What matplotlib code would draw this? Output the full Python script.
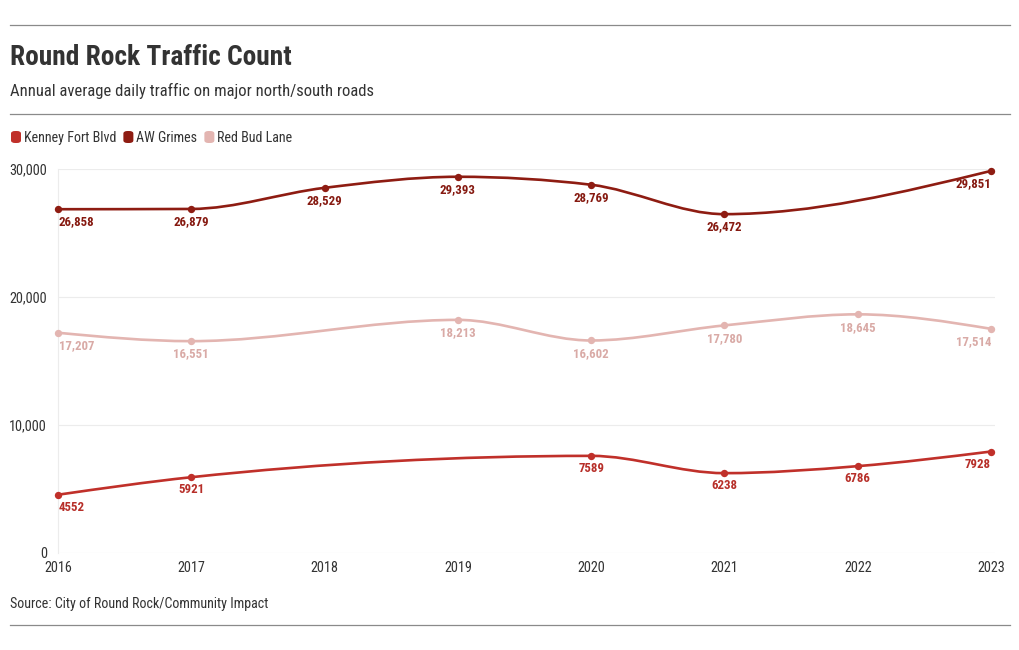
import numpy as np
import matplotlib
matplotlib.use("Agg")
import matplotlib.pyplot as plt
from matplotlib import font_manager
from matplotlib.patches import FancyBboxPatch, PathPatch
from matplotlib.lines import Line2D
from matplotlib.path import Path

years = [2016, 2017, 2018, 2019, 2020, 2021, 2022, 2023]
kenney = [4552, 5921, None, None, 7589, 6238, 6786, 7928]
grimes = [26858, 26879, 28529, 29393, 28769, 26472, None, 29851]
redbud = [17207, 16551, None, 18213, 16602, 17780, 18645, 17514]

series = [
    ("Kenney Fort Blvd", kenney, "#c0302a", "#b72f29", False),
    ("AW Grimes", grimes, "#8e1c12", "#861a11", True),
    ("Red Bud Lane", redbud, "#e3b5b1", "#d9aaa6", True),
]

names = {f.name for f in font_manager.fontManager.ttflist}
font = "Roboto Condensed" if "Roboto Condensed" in names else "Roboto"
plt.rcParams["font.family"] = [font, "DejaVu Sans"]


def monotone_path(xs, ys):
    # d3 curveMonotoneX as cubic bezier segments
    xs = np.asarray(xs, float)
    ys = np.asarray(ys, float)
    n = len(xs)
    h = np.diff(xs)
    s = np.diff(ys) / h
    t = np.zeros(n)
    for i in range(1, n - 1):
        p = (s[i - 1] * h[i] + s[i] * h[i - 1]) / (h[i - 1] + h[i])
        t[i] = (np.sign(s[i - 1]) + np.sign(s[i])) * min(abs(s[i - 1]), abs(s[i]), 0.5 * abs(p))
    t[0] = (3 * s[0] - t[1]) / 2
    t[-1] = (3 * s[-1] - t[-2]) / 2
    verts = [(xs[0], ys[0])]
    codes = [Path.MOVETO]
    for i in range(n - 1):
        dx = (xs[i + 1] - xs[i]) / 3
        verts += [(xs[i] + dx, ys[i] + dx * t[i]),
                  (xs[i + 1] - dx, ys[i + 1] - dx * t[i + 1]),
                  (xs[i + 1], ys[i + 1])]
        codes += [Path.CURVE4] * 3
    return Path(verts, codes)


fig = plt.figure(figsize=(10.2, 6.5), dpi=100)
ax = fig.add_axes([58 / 1020, 1 - 553 / 650, (995 - 58) / 1020, (553 - 169) / 650])

for name, vals, col, lcol, comma in series:
    xs = [y for y, v in zip(years, vals) if v is not None]
    ys = [v for v in vals if v is not None]
    ax.add_patch(PathPatch(monotone_path(xs, ys), fill=False, edgecolor=col,
                           lw=1.9, zorder=3, clip_on=False, capstyle="round"))
    ax.scatter(xs, ys, s=28, color=col, zorder=4, clip_on=False, linewidths=0)
    for i, (x, y) in enumerate(zip(xs, ys)):
        txt = f"{y:,}" if comma else f"{y}"
        ha = "center"
        if i == 0:
            ha = "left"
        elif i == len(xs) - 1:
            ha = "right"
        ax.annotate(txt, (x, y), xytext=(0.5 if i == 0 else 0, -4.5),
                    textcoords="offset points",
                    ha=ha, va="top", fontsize=9.3, fontweight="bold",
                    color=lcol, zorder=5)

ax.set_xlim(2016, 2023.03)
ax.set_ylim(0, 30000)
ax.set_xticks(years)
ax.set_yticks([0, 10000, 20000, 30000])
ax.set_yticklabels(["0", "10,000", "20,000", "30,000"])
ax.tick_params(length=0, labelsize=10.3, colors="#333333", pad=6)
ax.tick_params(axis="y", pad=8)
ax.grid(True, axis="y", color="#ececec", lw=0.8)
for sp in ["top", "right", "bottom"]:
    ax.spines[sp].set_visible(False)
ax.spines["left"].set_color("#ececec")
ax.spines["left"].set_linewidth(0.8)
ax.set_axisbelow(True)

# rules
for yy in [25, 114, 625]:
    fig.add_artist(Line2D([10 / 1020, 1010 / 1020], [1 - yy / 650] * 2,
                          color="#8a8a8a", lw=0.9))

fig.text(10 / 1020, 1 - 57.5 / 650, "Round Rock Traffic Count", fontsize=19.7,
         fontweight="bold", color="#333333", va="center")
fig.text(10 / 1020, 1 - 91 / 650, "Annual average daily traffic on major north/south roads",
         fontsize=12, color="#333333", va="center")
fig.text(10 / 1020, 1 - 604 / 650, "Source: City of Round Rock/Community Impact",
         fontsize=10.1, color="#333333", va="center")

# legend
renderer = fig.canvas.get_renderer()
x = 11
for name, vals, col, lcol, comma in series:
    fig.add_artist(FancyBboxPatch((x / 1020, 1 - 143 / 650), 10 / 1020, 12 / 650,
                                  boxstyle="round,pad=0,rounding_size=0.004",
                                  transform=fig.transFigure, facecolor=col,
                                  edgecolor="none"))
    t = fig.text((x + 13) / 1020, 1 - 138 / 650, name, fontsize=10.1,
                 color="#333333", va="center")
    w = t.get_window_extent(renderer).width
    x = x + 13 + w + 7

fig.savefig("out.png", dpi=100, facecolor="white")
